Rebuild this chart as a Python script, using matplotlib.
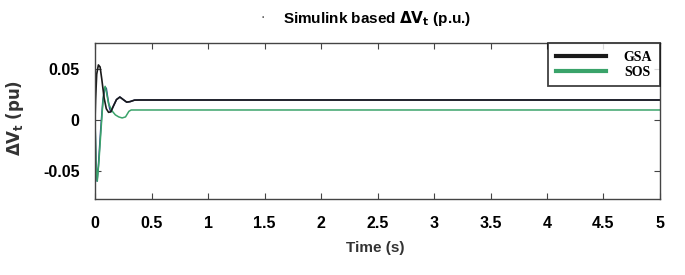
import matplotlib
matplotlib.use("Agg")
import matplotlib.pyplot as plt

# Data
t_gsa = [0, 0.005, 0.015, 0.03, 0.045, 0.06, 0.08, 0.10, 0.12, 0.14, 0.16, 0.19,
         0.22, 0.25, 0.28, 0.31, 0.35, 0.40, 5.0]
v_gsa = [0, 0.02, 0.045, 0.054, 0.052, 0.04, 0.022, 0.011, 0.0075, 0.008, 0.013,
         0.02, 0.0225, 0.02, 0.0175, 0.018, 0.0195, 0.0196, 0.0196]

t_blue = [0, 0.008, 0.018, 0.03, 0.05, 0.07, 0.09, 0.10, 0.115, 0.13, 0.14, 0.16,
          0.19, 0.22, 0.25, 0.28, 0.31, 0.35, 0.40, 5.0]
v_blue = [0, -0.04, -0.06, -0.045, -0.01, 0.02, 0.032, 0.031, 0.02, 0.011, 0.008,
          0.013, 0.02, 0.0225, 0.02, 0.0175, 0.018, 0.0195, 0.0196, 0.0196]

t_sos = [0, 0.01, 0.02, 0.035, 0.05, 0.065, 0.08, 0.09, 0.10, 0.12, 0.15, 0.18,
         0.21, 0.24, 0.27, 0.30, 0.32, 5.0]
v_sos = [0, -0.045, -0.06, -0.04, -0.015, 0.01, 0.03, 0.033, 0.028, 0.016, 0.009,
         0.005, 0.003, 0.002, 0.003, 0.0085, 0.0098, 0.0098]

x_ticks = [0, 0.5, 1, 1.5, 2, 2.5, 3, 3.5, 4, 4.5, 5]
x_ticklabels = ["0", "0.5", "1", "1.5", "2", "2.5", "3", "3.5", "4", "4.5", "5"]
y_ticks = [-0.05, 0, 0.05]
y_ticklabels = ["-0.05", "0", "0.05"]

fig = plt.figure(figsize=(6.85, 2.75), dpi=100)
ax = fig.add_axes([0.1387, 0.2764, 0.8248, 0.5672])

ax.plot(t_blue, v_blue, color="#2c3e8f", lw=1.1)
ax.plot(t_sos, v_sos, color="#3aa36a", lw=1.1, label="SOS")
ax.plot(t_gsa, v_gsa, color="#1a1a1a", lw=1.2, label="GSA")

ax.set_xlim(0, 5)
ax.set_ylim(-0.0775, 0.0755)
ax.set_xticks(x_ticks)
ax.set_xticklabels(x_ticklabels)
ax.set_yticks(y_ticks)
ax.set_yticklabels(y_ticklabels)
ax.tick_params(direction="in", top=True, right=True, length=4, width=0.8,
               color="#444444", labelsize=11.5)
ax.tick_params(axis="x", pad=12)
ax.tick_params(axis="y", pad=11)
for lab in ax.get_xticklabels() + ax.get_yticklabels():
    lab.set_fontweight("bold")
    lab.set_family("Liberation Sans")
for s in ax.spines.values():
    s.set_color("#444444")
    s.set_linewidth(1.0)

handles, labels = ax.get_legend_handles_labels()
leg = ax.legend([handles[1], handles[0]], [labels[1], labels[0]],
                loc="upper right", bbox_to_anchor=(1.0, 1.0),
                prop={"family": "Liberation Serif", "weight": "bold", "size": 10},
                frameon=True, fancybox=False, borderaxespad=0.0,
                handlelength=3.6, handletextpad=1.3, labelspacing=0.15,
                borderpad=0.55)
leg.get_frame().set_edgecolor("#111111")
leg.get_frame().set_linewidth(1.3)
for h in leg.get_lines():
    h.set_linewidth(3.0)

ax.set_xlabel("Time (s)", fontsize=11, fontweight="bold", family="Liberation Sans",
              color="#333333")
ax.xaxis.set_label_coords(0.496, -0.27)
ax.set_ylabel(r"$\mathbf{\Delta V_t}$ $\mathbf{(pu)}$", fontsize=12, fontweight="bold",
              family="Liberation Sans", color="#333333")
ax.yaxis.set_label_coords(-0.122, 0.52)

fig.text(0.551, 0.932, r"Simulink based $\mathbf{\Delta V_t}$ (p.u.)", ha="center",
         va="center", fontsize=11, fontweight="bold", family="Liberation Sans")
fig.text(0.384, 0.935, "·", ha="center", va="center", fontsize=10, color="#555555")

fig.savefig("out.png", dpi=100)
